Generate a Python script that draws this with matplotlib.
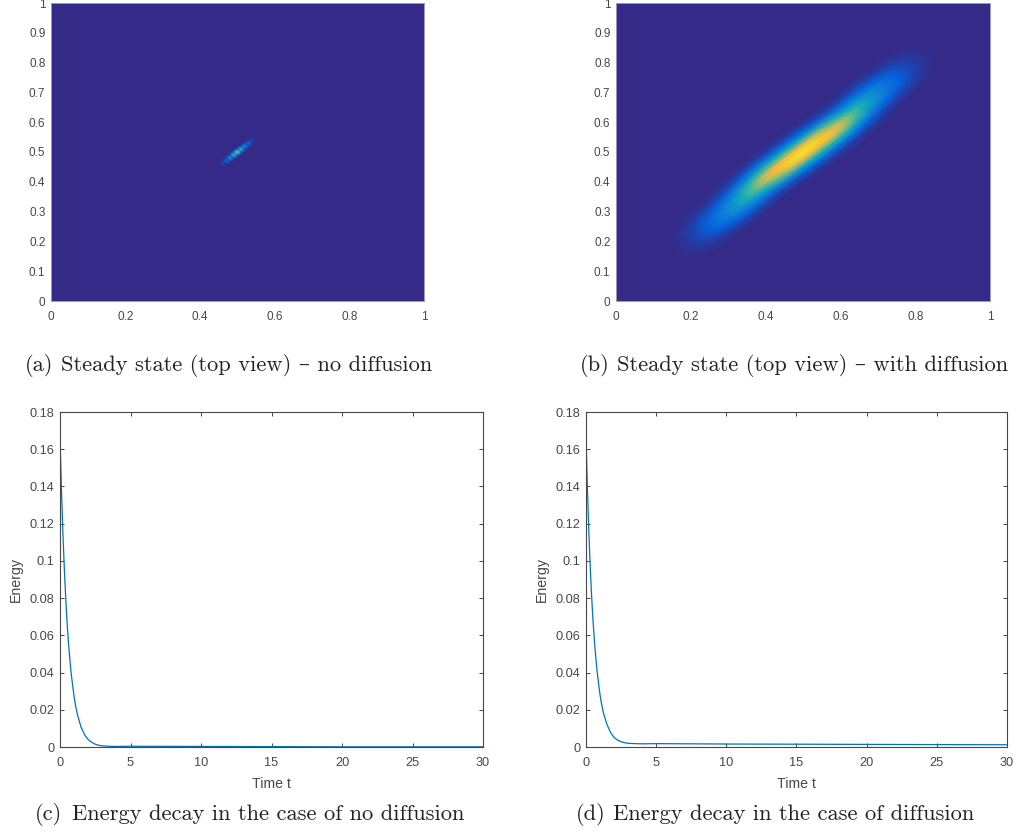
import numpy as np
import matplotlib
matplotlib.use("Agg")
import matplotlib.pyplot as plt
from matplotlib.colors import LinearSegmentedColormap

plt.rcParams['font.family'] = ['Liberation Sans', 'DejaVu Sans']

W, H = 1020, 834
INK = '#474747'
LINE = '#0072BD'

parula = LinearSegmentedColormap.from_list('parula', [
    '#352a87', '#0363e1', '#1485d4', '#06a7c6', '#38b99e',
    '#92bf73', '#e3b950', '#fdc02e', '#f9f018'])

# field: rows along the ridge, columns across it
a_along = [-.09, -.08, -.07, -.06, -.05, -.04, -.03, -.02, -.01, 0,
           .01, .02, .03, .04, .05, .06, .07, .08, .09]
a_across = [-.015, -.0075, 0, .0075, .015]
a_field = [
    [0, 0, 0, 0, 0],
    [.01, .05, .08, .05, .01],
    [0, .02, .03, .02, 0],
    [.02, .12, .20, .12, .02],
    [.01, .05, .08, .05, .01],
    [.04, .21, .35, .21, .04],
    [.01, .08, .14, .08, .01],
    [.06, .33, .55, .33, .06],
    [.03, .15, .25, .15, .03],
    [.09, .50, .85, .50, .09],
    [.03, .15, .25, .15, .03],
    [.06, .33, .55, .33, .06],
    [.01, .08, .14, .08, .01],
    [.04, .21, .35, .21, .04],
    [.01, .05, .08, .05, .01],
    [.02, .12, .20, .12, .02],
    [0, .02, .03, .02, 0],
    [.01, .05, .08, .05, .01],
    [0, 0, 0, 0, 0],
]

# field, same layout; the lower half is this half turned round
b_along = [-.7, -.65, -.6, -.55, -.5, -.45, -.4, -.35, -.3, -.25, -.2, -.15, -.1, -.05,
           0, .05, .1, .15, .2, .25, .3, .35, .4, .45, .5, .55, .6, .65, .7]
b_across = [-.125, -.1, -.075, -.05, -.025, 0, .025, .05, .075, .1, .125]
b_half = [
    [.004, .03, .139, .408, .781, .97, .781, .408, .139, .03, .004],
    [.003, .024, .116, .359, .725, .947, .804, .443, .158, .037, .006],
    [.002, .018, .093, .304, .645, .889, .795, .46, .173, .042, .007],
    [.002, .013, .071, .246, .549, .797, .75, .458, .181, .047, .008],
    [.001, .01, .055, .196, .454, .681, .663, .419, .172, .046, .008],
    [.001, .01, .055, .18, .39, .564, .531, .33, .135, .036, .006],
    [.001, .012, .06, .175, .34, .454, .41, .25, .105, .03, .005],
    [.002, .014, .06, .155, .28, .349, .30, .18, .075, .022, .004],
    [.002, .013, .055, .135, .225, .26, .225, .135, .055, .013, .002],
    [.002, .011, .042, .105, .165, .19, .165, .105, .042, .011, .002],
    [.001, .008, .03, .075, .115, .13, .115, .075, .03, .008, .001],
    [.001, .005, .02, .048, .07, .08, .07, .048, .02, .005, .001],
    [0, .002, .01, .024, .036, .042, .036, .024, .01, .002, 0],
    [0, 0, .002, .006, .01, .012, .01, .006, .002, 0, 0],
    [0, 0, 0, 0, 0, 0, 0, 0, 0, 0, 0],
]
b_field = np.vstack([np.array(b_half)[:0:-1, ::-1], b_half])

time = [0, .1, .2, .3, .4, .5, .6, .7, .8, .9, 1, 1.1, 1.25, 1.5, 1.75, 2, 2.25, 2.5,
        2.75, 3, 3.5, 4, 5, 10, 15, 20, 25, 30]
energy_c = [.167, .139, .116, .097, .081, .067, .056, .047, .039, .033, .027, .0225,
            .017, .0105, .0065, .004, .0025, .0015, .0009, .0006, .0004, .0003,
            .0004, .0003, .0002, .0001, .0001, .0001]
energy_d = [.167, .139, .116, .097, .081, .068, .057, .048, .04, .034, .028, .0235,
            .018, .012, .0078, .0052, .0037, .0028, .0023, .002, .0018, .0017,
            .0018, .0016, .0015, .0014, .0013, .0012]

top_xticks = [0, .2, .4, .6, .8, 1]
top_xlabels = ['0', '0.2', '0.4', '0.6', '0.8', '1']
top_yticks = [0, .1, .2, .3, .4, .5, .6, .7, .8, .9, 1]
top_ylabels = ['0', '0.1', '0.2', '0.3', '0.4', '0.5', '0.6', '0.7', '0.8', '0.9', '1']
bot_xticks = [0, 5, 10, 15, 20, 25, 30]
bot_yticks = [0, .02, .04, .06, .08, .1, .12, .14, .16, .18]
bot_ylabels = ['0', '0.02', '0.04', '0.06', '0.08', '0.1', '0.12', '0.14', '0.16', '0.18']

cap_tags = ['(a)', '(b)', '(c)', '(d)']
cap_texts = ['Steady state (top view) – no diffusion',
             'Steady state (top view) – with diffusion',
             'Energy decay in the case of no diffusion',
             'Energy decay in the case of diffusion']


def make_axes(left, top, right, bottom):
    return fig.add_axes([left / W, 1 - bottom / H, (right - left) / W, (bottom - top) / H])


def top_panel(box, along, across, field):
    ax = make_axes(*box)
    along, across = np.meshgrid(along, across, indexing='ij')
    # ridge runs along the diagonal of the unit square
    X = 0.5 + (along + across) / 2
    Y = 0.5 + (along - across) / 2
    ax.set_facecolor(parula(0.0))
    ax.pcolormesh(X, Y, np.array(field), cmap=parula, vmin=0, vmax=1, shading='gouraud')
    ax.set_xlim(0, 1)
    ax.set_ylim(0, 1)
    ax.set_xticks(top_xticks, top_xlabels)
    ax.set_yticks(top_yticks, top_ylabels)
    ax.tick_params(length=0, labelcolor=INK, labelsize=8.5)
    ax.tick_params(axis='x', pad=7)
    ax.tick_params(axis='y', pad=4)
    for sp in ax.spines.values():
        sp.set_linewidth(0.7)
        sp.set_color('#9a9ab8')


def bot_panel(box, energy):
    ax = make_axes(*box)
    ax.plot(time, energy, color=LINE, lw=0.9)
    ax.set_xlim(0, 30)
    ax.set_ylim(0, 0.18)
    ax.set_xticks(bot_xticks)
    ax.set_yticks(bot_yticks, bot_ylabels)
    ax.set_xlabel('Time t', fontsize=10.2, color=INK, labelpad=5.5)
    ax.set_ylabel('Energy', fontsize=10.2, color=INK, labelpad=4.5)
    ax.tick_params(direction='in', length=3, width=0.7, top=True, right=True,
                   colors=INK, labelsize=9.2)
    ax.tick_params(axis='x', pad=7.5)
    ax.tick_params(axis='y', pad=4)
    for sp in ax.spines.values():
        sp.set_linewidth(0.8)
        sp.set_color(INK)


fig = plt.figure(figsize=(W / 100, H / 100), dpi=100)

top_panel((51, 3, 424, 301), a_along, a_across, a_field)
top_panel((616, 3, 990, 301), b_along, b_across, b_field)
bot_panel((60, 412, 483, 747), energy_c)
bot_panel((586, 412, 1007, 747), energy_d)

cap_font = ['cmr10', 'DejaVu Serif']
tag_x = [25, 580, 35, 576]
text_x = [61, 617, 72, 613]
cap_y = [366, 366, 814, 814]
for tag, text, x0, x1, y in zip(cap_tags, cap_texts, tag_x, text_x, cap_y):
    fig.text(x0 / W, 1 - y / H, tag, fontsize=16.2, family=cap_font, color='#222222',
             va='center', ha='left')
    fig.text(x1 / W, 1 - y / H, text, fontsize=16.2, family=cap_font, color='#222222',
             va='center', ha='left')

fig.savefig('out.png', dpi=100)
